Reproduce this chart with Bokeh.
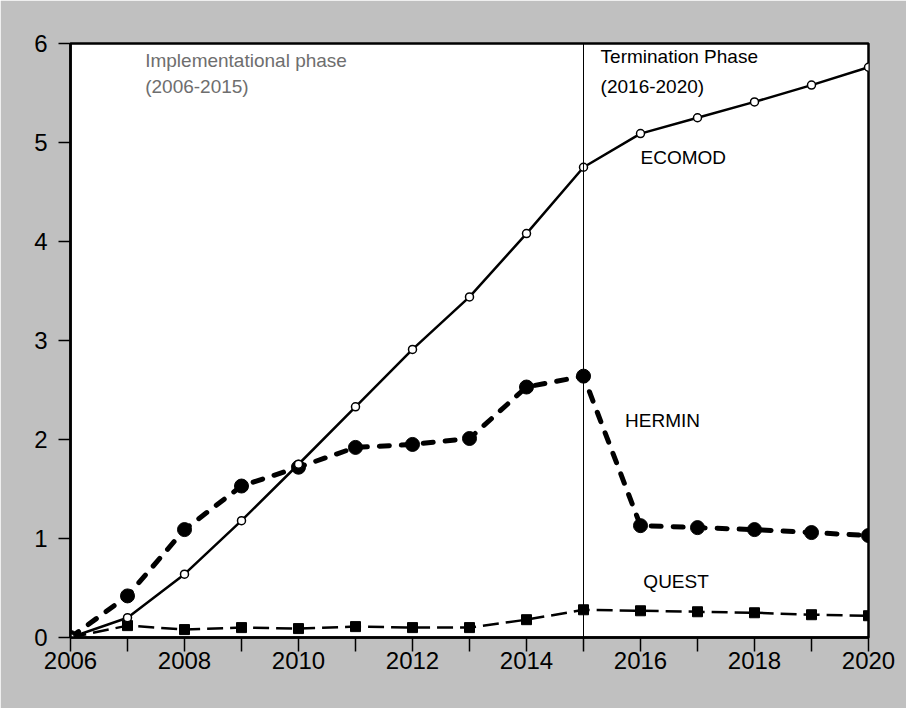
from bokeh.plotting import figure
from bokeh.models import FixedTicker, Span, Label, Range1d
from bokeh.embed import file_html
from bokeh.resources import INLINE

years = list(range(2006, 2021))
ecomod = [0.0, 0.20, 0.64, 1.18, 1.75, 2.33, 2.91, 3.44, 4.08, 4.75, 5.09, 5.25, 5.41, 5.58, 5.76]
hermin = [0.0, 0.42, 1.09, 1.53, 1.72, 1.92, 1.95, 2.01, 2.53, 2.64, 1.13, 1.11, 1.09, 1.06, 1.03]
quest = [0.0, 0.12, 0.08, 0.10, 0.09, 0.11, 0.10, 0.10, 0.18, 0.28, 0.27, 0.26, 0.25, 0.23, 0.22]

x_ticks = list(range(2006, 2021))
x_tick_labels = {y: (str(y) if y % 2 == 0 else "") for y in x_ticks}
y_ticks = [0, 1, 2, 3, 4, 5, 6]
phase_split = 2015

FONT = "Liberation Sans"

p = figure(width=906, height=708, output_backend="svg", toolbar_location=None,
           x_range=Range1d(2006, 2020), y_range=Range1d(0, 6),
           min_border_left=70, min_border_right=38, min_border_top=43, min_border_bottom=71)

p.border_fill_color = "#c0c0c0"
p.background_fill_color = "white"
p.outline_line_color = "black"
p.outline_line_width = 2.5
p.grid.visible = False

p.xaxis.ticker = FixedTicker(ticks=x_ticks)
p.xaxis.major_label_overrides = x_tick_labels
p.yaxis.ticker = FixedTicker(ticks=y_ticks)
for ax in (p.xaxis, p.yaxis):
    ax.axis_line_color = "black"
    ax.axis_line_width = 2.5
    ax.major_tick_line_color = "black"
    ax.major_tick_line_width = 1.5
    ax.major_tick_in = 0
    ax.minor_tick_line_color = None
    ax.major_label_text_font = FONT
    ax.major_label_text_font_size = "24px"
    ax.major_label_text_color = "black"
p.xaxis.major_tick_out = 14
p.xaxis.major_label_standoff = 0
p.yaxis.major_tick_out = 12
p.yaxis.major_label_standoff = 11

p.add_layout(Span(location=phase_split, dimension="height", line_color="black", line_width=1))

# QUEST
p.line(years, quest, line_color="black", line_width=2.5, line_dash="16 7")
p.scatter(years, quest, marker="square", size=10, fill_color="black", line_color="black")

# HERMIN
p.line(years, hermin, line_color="black", line_width=5, line_dash="10 12", line_cap="round")
p.scatter(years, hermin, marker="circle", size=14, fill_color="black", line_color="black")

# ECOMOD
p.line(years, ecomod, line_color="black", line_width=2.5)
p.scatter(years, ecomod, marker="circle", size=8, fill_color="white", line_color="black", line_width=1.5)

def lab(x, y, t, color="black"):
    p.add_layout(Label(x=x, y=y, text=t, text_font=FONT, text_font_size="19px",
                       text_color=color, text_baseline="alphabetic", text_align="left"))

lab(2007.31, 5.83, "Implementational phase", "#6e6e6e")
lab(2007.31, 5.57, "(2006-2015)", "#6e6e6e")
lab(2015.30, 5.87, "Termination Phase")
lab(2015.30, 5.57, "(2016-2020)")
lab(2016.00, 4.845, "ECOMOD")
lab(2015.73, 2.195, "HERMIN")
lab(2016.05, 0.563, "QUEST")

open("out.html", "w").write(file_html(p, INLINE))
